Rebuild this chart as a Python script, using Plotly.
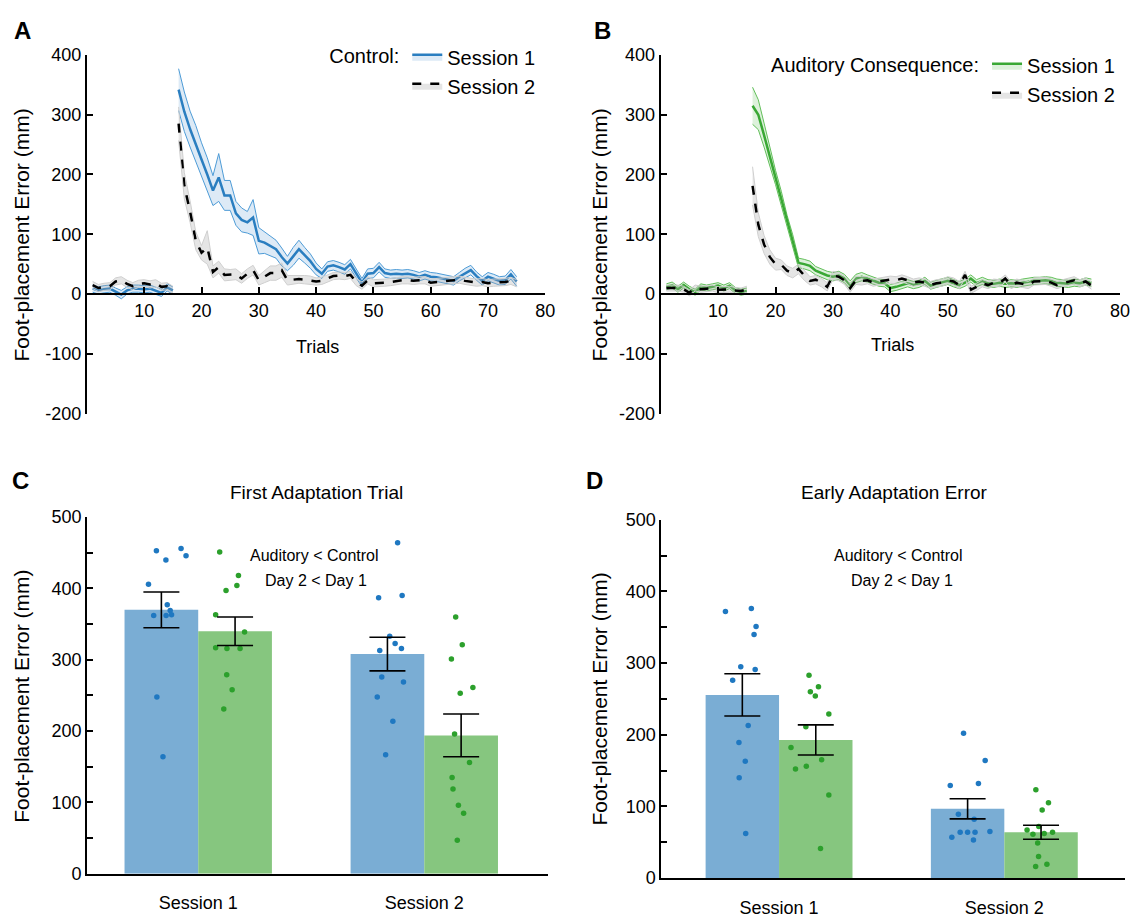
import plotly.graph_objects as go

# ---------------- data ----------------
trials_base = list(range(1, 16))
trials_adapt = list(range(16, 76))

# Panel A: Control
ctrl_s1_base = [9, 6, 8, 9, 4, -1, 6, 9, 9, 8, 9, 6, 2, 11, 6]
ctrl_s1_adapt = [342, 305, 276, 252, 225, 200, 173, 195, 165, 165,
                 135, 124, 120, 128, 89, 86, 81, 75, 62, 51,
                 63, 75, 65, 55, 42, 34, 46, 48, 45, 41,
                 50, 34, 19, 34, 35, 45, 35, 33, 34, 33,
                 34, 32, 29, 32, 29, 28, 26, 25, 22, 29,
                 35, 40, 30, 22, 29, 26, 22, 23, 33, 21]
ctrl_s1_base_sem = [6, 6, 6, 6, 6, 7, 6, 6, 6, 6, 6, 6, 6, 6, 6]
ctrl_s1_adapt_sem = [35, 33, 30, 30, 28, 28, 25, 40, 25, 25,
                     20, 20, 18, 30, 22, 18, 17, 15, 15, 12,
                     15, 15, 13, 12, 10, 8, 8, 8, 8, 8,
                     8, 8, 7, 8, 8, 8, 7, 7, 7, 7,
                     7, 7, 7, 7, 7, 7, 7, 7, 7, 7,
                     8, 8, 7, 7, 7, 7, 7, 7, 8, 8]

ctrl_s2_base = [15, 10, 12, 13, 21, 23, 17, 13, 17, 18, 16, 18, 12, 13, 7]
ctrl_s2_adapt = [285, 181, 138, 89, 69, 78, 37, 45, 32, 32,
                 33, 26, 34, 40, 23, 29, 35, 35, 40, 23,
                 24, 25, 24, 23, 21, 22, 26, 30, 31, 30,
                 32, 20, 14, 23, 18, 18, 19, 20, 22, 23,
                 23, 22, 23, 23, 19, 20, 21, 22, 23, 24,
                 22, 21, 19, 20, 18, 19, 19, 20, 22, 18]
ctrl_s2_base_sem = [6, 6, 6, 6, 6, 6, 6, 6, 6, 6, 6, 6, 6, 6, 6]
ctrl_s2_adapt_sem = [28, 22, 18, 15, 12, 28, 10, 10, 10, 9,
                     9, 8, 8, 8, 8, 10, 12, 12, 12, 8,
                     7, 7, 7, 7, 6, 6, 6, 6, 6, 6,
                     6, 6, 6, 6, 6, 6, 6, 6, 6, 6,
                     6, 6, 6, 6, 6, 6, 6, 6, 6, 6,
                     6, 6, 6, 6, 6, 6, 6, 6, 6, 6]

# Panel B: Auditory Consequence
aud_s1_base = [12, 15, 8, 15, 8, 3, 12, 10, 12, 14, 10, 14, 6, 3, 5]
aud_s1_adapt = [315, 300, 266, 230, 195, 160, 122, 89, 52, 50,
                47, 39, 35, 31, 29, 31, 26, 15, 26, 29,
                26, 22, 19, 18, 10, 12, 15, 18, 15, 17,
                22, 14, 17, 19, 22, 18, 15, 19, 26, 18,
                22, 18, 17, 19, 17, 18, 17, 19, 21, 22,
                22, 23, 22, 19, 18, 17, 19, 18, 21, 19]
aud_s1_base_sem = [5, 5, 5, 5, 5, 5, 5, 5, 5, 5, 5, 5, 5, 5, 5]
aud_s1_adapt_sem = [31, 25, 20, 15, 12, 12, 10, 10, 8, 8,
                    8, 7, 7, 7, 7, 7, 7, 7, 7, 7,
                    6, 6, 6, 6, 6, 6, 6, 6, 6, 6,
                    6, 6, 6, 6, 6, 6, 6, 6, 6, 6,
                    6, 6, 6, 6, 6, 6, 6, 6, 6, 6,
                    6, 6, 6, 6, 6, 6, 6, 6, 6, 6]

aud_s2_base = [10, 10, 10, 8, 2, 10, 8, 9, 10, 7, 8, 8, 6, 5, 8]
aud_s2_adapt = [181, 116, 83, 62, 50, 49, 39, 35, 42, 31,
                22, 24, 19, 12, 31, 29, 23, 10, 23, 22,
                23, 19, 21, 22, 24, 23, 26, 23, 19, 21,
                19, 15, 18, 19, 23, 21, 15, 32, 7, 12,
                18, 15, 19, 18, 26, 15, 19, 17, 15, 21,
                22, 22, 19, 15, 18, 21, 23, 18, 21, 14]
aud_s2_base_sem = [5, 5, 5, 5, 5, 5, 5, 5, 5, 5, 5, 5, 5, 5, 5]
aud_s2_adapt_sem = [32, 20, 15, 12, 10, 8, 8, 8, 8, 8,
                    7, 7, 7, 7, 7, 7, 7, 7, 7, 7,
                    6, 6, 6, 6, 6, 6, 6, 6, 6, 6,
                    6, 6, 6, 6, 6, 6, 6, 6, 6, 6,
                    6, 6, 6, 6, 6, 6, 6, 6, 6, 6,
                    6, 6, 6, 6, 6, 6, 6, 6, 6, 6]

# Panels C and D
sessions = ["Session 1", "Session 2"]
c_ctrl_mean = [370, 308]
c_ctrl_sem = [25, 23.5]
c_aud_mean = [340, 194]
c_aud_sem = [20, 30]
d_ctrl_mean = [255.5, 96.5]
d_ctrl_sem = [29.5, 14]
d_aud_mean = [192.7, 63.8]
d_aud_sem = [21, 9.8]

c_ctrl_s1_pts = [453, 440, 456, 446, 406, 377, 369, 362, 362, 363, 248, 164]
c_ctrl_s1_jit = [-0.022, 0.020, 0.087, 0.109, -0.057, 0.026, 0.039, -0.034, 0.021, 0.045, -0.020, 0.007]
c_aud_s1_pts = [451, 418, 404, 397, 363, 339, 317, 316, 316, 279, 258, 231]
c_aud_s1_jit = [-0.068, 0.015, 0.008, -0.040, -0.086, 0.042, -0.086, -0.036, 0.022, -0.037, -0.013, -0.050]
c_ctrl_s2_pts = [464, 387, 390, 333, 323, 316, 313, 276, 269, 248, 214, 167]
c_ctrl_s2_jit = [0.045, -0.039, 0.065, 0.010, 0.034, 0.062, -0.034, -0.025, 0.071, -0.045, 0.024, -0.008]
c_aud_s2_pts = [360, 321, 301, 261, 253, 196, 156, 135, 119, 96, 85, 47]
c_aud_s2_jit = [-0.024, 0.005, -0.043, 0.052, -0.004, -0.029, 0.037, -0.040, -0.036, -0.012, 0.011, -0.017]

d_ctrl_s1_pts = [372, 376, 351, 340, 295, 291, 276, 213, 189, 163, 140, 62]
d_ctrl_s1_jit = [-0.075, 0.040, 0.061, 0.052, -0.007, 0.057, -0.043, 0.026, -0.015, 0.013, -0.014, 0.015]
d_aud_s1_pts = [283, 267, 260, 254, 229, 211, 182, 165, 156, 152, 116, 41]
d_aud_s1_jit = [-0.030, 0.012, -0.024, -0.002, 0.058, -0.044, -0.110, 0.026, -0.042, -0.090, 0.058, 0.021]
d_ctrl_s2_pts = [202, 164, 132, 129, 89, 82, 64, 64, 64, 65, 57, 53]
d_ctrl_s2_jit = [-0.018, 0.078, 0.048, -0.077, -0.041, 0.029, -0.033, 0.000, 0.033, 0.099, -0.070, 0.026]
d_aud_s2_pts = [123, 105, 95, 72, 67, 61, 62, 64, 49, 30, 19, 16]
d_aud_s2_jit = [-0.023, 0.033, 0.005, -0.010, -0.062, -0.036, 0.014, 0.051, -0.015, -0.011, 0.026, -0.024]

trial_ticks = [10, 20, 30, 40, 50, 60, 70, 80]
y_ticks_ab = [-200, -100, 0, 100, 200, 300, 400]
y_labels_ab = ["-200", "-100", "0", "100", "200", "300", "400"]
y_ticks_cd = [0, 50, 100, 150, 200, 250, 300, 350, 400, 450, 500]
y_labels_cd = ["0", "", "100", "", "200", "", "300", "", "400", "", "500"]

# ---------------- styling ----------------
W, H = 1143, 918
FONT = "Arial, Liberation Sans, sans-serif"
BLUE_LINE = "#2a7ec0"
BLUE_EDGE = "#4d9bd6"
BLUE_FILL = "rgba(120,170,220,0.25)"
GREEN_LINE = "#3aa835"
GREEN_EDGE = "#62bf5a"
GREEN_FILL = "rgba(120,200,110,0.25)"
GREY_EDGE = "#cfcfcf"
GREY_FILL = "rgba(170,170,170,0.3)"
BAR_BLUE = "#7aadd4"
BAR_GREEN = "#86c67f"
DOT_BLUE = "#1f78c1"
DOT_GREEN = "#2ca02c"
BAR_W = 0.326


def px(x):
    return x / W


def py(y):
    return 1 - y / H


fig = go.Figure()


def add_band_series(xs, mean, sem, xa, ya, line_color, edge_color, fill, dash, name, legend, show):
    upper = [m + s for m, s in zip(mean, sem)]
    lower = [m - s for m, s in zip(mean, sem)]
    fig.add_trace(go.Scatter(x=xs, y=upper, mode="lines", xaxis=xa, yaxis=ya,
                             line=dict(color=edge_color, width=1), showlegend=False,
                             hoverinfo="skip"))
    fig.add_trace(go.Scatter(x=xs, y=mean, mode="lines", xaxis=xa, yaxis=ya,
                             fill="tonexty", fillcolor=fill,
                             line=dict(color=line_color, width=2.5, dash=dash),
                             name=name, legend=legend, showlegend=show))
    fig.add_trace(go.Scatter(x=xs, y=lower, mode="lines", xaxis=xa, yaxis=ya,
                             fill="tonexty", fillcolor=fill,
                             line=dict(color=edge_color, width=1), showlegend=False,
                             hoverinfo="skip"))


# Panel A
for xs, m, s, show in [(trials_base, ctrl_s1_base, ctrl_s1_base_sem, False),
                       (trials_adapt, ctrl_s1_adapt, ctrl_s1_adapt_sem, True)]:
    add_band_series(xs, m, s, "x", "y", BLUE_LINE, BLUE_EDGE, BLUE_FILL, "solid", "Session 1", "legend", show)
for xs, m, s, show in [(trials_base, ctrl_s2_base, ctrl_s2_base_sem, False),
                       (trials_adapt, ctrl_s2_adapt, ctrl_s2_adapt_sem, True)]:
    add_band_series(xs, m, s, "x", "y", "black", GREY_EDGE, GREY_FILL, "dash", "Session 2", "legend", show)

# Panel B
for xs, m, s, show in [(trials_base, aud_s1_base, aud_s1_base_sem, False),
                       (trials_adapt, aud_s1_adapt, aud_s1_adapt_sem, True)]:
    add_band_series(xs, m, s, "x2", "y2", GREEN_LINE, GREEN_EDGE, GREEN_FILL, "solid", "Session 1", "legend2", show)
for xs, m, s, show in [(trials_base, aud_s2_base, aud_s2_base_sem, False),
                       (trials_adapt, aud_s2_adapt, aud_s2_adapt_sem, True)]:
    add_band_series(xs, m, s, "x2", "y2", "black", GREY_EDGE, GREY_FILL, "dash", "Session 2", "legend2", show)


# Panels C, D
def add_bar_panel(xa, ya, ctrl_mean, ctrl_sem, aud_mean, aud_sem, pts):
    cats = [1, 2]
    fig.add_trace(go.Bar(x=cats, y=ctrl_mean, width=BAR_W, offset=-BAR_W, xaxis=xa, yaxis=ya,
                         marker=dict(color=BAR_BLUE, line=dict(width=0)), showlegend=False))
    fig.add_trace(go.Bar(x=cats, y=aud_mean, width=BAR_W, offset=0, xaxis=xa, yaxis=ya,
                         marker=dict(color=BAR_GREEN, line=dict(width=0)), showlegend=False))
    for (vals, jit, cat, side, col) in pts:
        center = cat + side * BAR_W / 2
        fig.add_trace(go.Scatter(x=[center + j for j in jit], y=vals, mode="markers",
                                 xaxis=xa, yaxis=ya, showlegend=False,
                                 marker=dict(color=col, size=5.5, line=dict(width=0))))
    fig.add_trace(go.Scatter(x=[c - BAR_W / 2 for c in cats], y=ctrl_mean, mode="markers",
                             xaxis=xa, yaxis=ya, showlegend=False,
                             marker=dict(color="rgba(0,0,0,0)", size=1),
                             error_y=dict(type="data", array=ctrl_sem, color="black",
                                          thickness=1.6, width=18)))
    fig.add_trace(go.Scatter(x=[c + BAR_W / 2 for c in cats], y=aud_mean, mode="markers",
                             xaxis=xa, yaxis=ya, showlegend=False,
                             marker=dict(color="rgba(0,0,0,0)", size=1),
                             error_y=dict(type="data", array=aud_sem, color="black",
                                          thickness=1.6, width=18)))


add_bar_panel("x3", "y3", c_ctrl_mean, c_ctrl_sem, c_aud_mean, c_aud_sem, [
    (c_ctrl_s1_pts, c_ctrl_s1_jit, 1, -1, DOT_BLUE),
    (c_aud_s1_pts, c_aud_s1_jit, 1, 1, DOT_GREEN),
    (c_ctrl_s2_pts, c_ctrl_s2_jit, 2, -1, DOT_BLUE),
    (c_aud_s2_pts, c_aud_s2_jit, 2, 1, DOT_GREEN),
])
add_bar_panel("x4", "y4", d_ctrl_mean, d_ctrl_sem, d_aud_mean, d_aud_sem, [
    (d_ctrl_s1_pts, d_ctrl_s1_jit, 1, -1, DOT_BLUE),
    (d_aud_s1_pts, d_aud_s1_jit, 1, 1, DOT_GREEN),
    (d_ctrl_s2_pts, d_ctrl_s2_jit, 2, -1, DOT_BLUE),
    (d_aud_s2_pts, d_aud_s2_jit, 2, 1, DOT_GREEN),
])

# ---------------- axes ----------------
tickfont = dict(family=FONT, size=18, color="black")
line_ax = dict(showline=True, linecolor="black", linewidth=2, showgrid=False, zeroline=False,
               ticks="inside", ticklen=6, tickwidth=1.5, tickcolor="black", tickfont=tickfont)
cat_ax = dict(showline=True, linecolor="black", linewidth=2, showgrid=False, zeroline=False,
              ticks="", tickfont=tickfont, ticklabelstandoff=12)

ydom_ab = [py(413), py(46)]
fig.update_layout(
    xaxis=dict(**line_ax, domain=[px(87.7), px(550.1)], range=[0, 80], anchor="free",
               position=py(291), tickvals=trial_ticks),
    yaxis=dict(**line_ax, domain=ydom_ab, range=[-200, 400], anchor="x",
               tickvals=y_ticks_ab, ticktext=y_labels_ab),
    xaxis2=dict(**line_ax, domain=[px(666.5), px(1130)], range=[0, 80], anchor="free",
                position=py(291), tickvals=trial_ticks),
    yaxis2=dict(**line_ax, domain=ydom_ab, range=[-200, 400], anchor="x2",
                tickvals=y_ticks_ab, ticktext=y_labels_ab),
    xaxis3=dict(**cat_ax, domain=[px(88), px(553)], range=[0.509, 2.548],
                anchor="y3", tickvals=[1, 2], ticktext=sessions),
    yaxis3=dict(**line_ax, domain=[py(884), py(519)], range=[0, 500], anchor="x3",
                tickvals=y_ticks_cd, ticktext=y_labels_cd),
    xaxis4=dict(**cat_ax, domain=[px(667.3), px(1135)], range=[0.478, 2.536],
                anchor="y4", tickvals=[1, 2], ticktext=sessions),
    yaxis4=dict(**line_ax, domain=[py(888.3), py(521.7)], range=[0, 500], anchor="x4",
                tickvals=y_ticks_cd, ticktext=y_labels_cd),
)

# ---------------- legends ----------------
leg_common = dict(bgcolor="rgba(0,0,0,0)", font=dict(family=FONT, size=20, color="black"),
                  yanchor="top", xanchor="right", tracegroupgap=0, itemwidth=30,
                  traceorder="normal")
fig.update_layout(
    legend=dict(**leg_common, x=px(545), y=py(28),
                title=dict(text="Control:", side="left", font=dict(family=FONT, size=20))),
    legend2=dict(**leg_common, x=px(1130), y=py(37),
                 title=dict(text="Auditory Consequence:", side="left", font=dict(family=FONT, size=20))),
)

# ---------------- text ----------------
ann = []


def add_text(x, y, text, size, bold=False, angle=0):
    ann.append(dict(x=px(x), y=py(y), xref="paper", yref="paper", text=f"<b>{text}</b>" if bold else text,
                    showarrow=False, textangle=angle, xanchor="center", yanchor="middle",
                    font=dict(family=FONT, size=size, color="black")))


add_text(23, 21, "A", 24, bold=True)
add_text(608, 21, "B", 24, bold=True)
add_text(21, 482, "C", 24, bold=True)
add_text(600, 482, "D", 24, bold=True)
for xx, yy in [(22, 230), (605, 230), (22, 702), (605, 705)]:
    add_text(xx, yy, "Foot-placement Error (mm)", 21, angle=-90)
add_text(320, 345, "Trials", 18)
add_text(900, 343, "Trials", 18)
add_text(319, 494, "First Adaptation Trial", 19)
add_text(902, 494, "Early Adaptation Error", 19)
add_text(317, 558, "Auditory &lt; Control", 16)
add_text(319, 584, "Day 2 &lt; Day 1", 16)
add_text(906, 558, "Auditory &lt; Control", 16)
add_text(910, 584, "Day 2 &lt; Day 1", 16)

fig.update_layout(
    annotations=ann,
    width=W, height=H, margin=dict(l=0, r=0, t=0, b=0),
    paper_bgcolor="white", plot_bgcolor="white",
    barmode="overlay", showlegend=True,
    font=dict(family=FONT, color="black"),
)

fig.write_html("out.html")
